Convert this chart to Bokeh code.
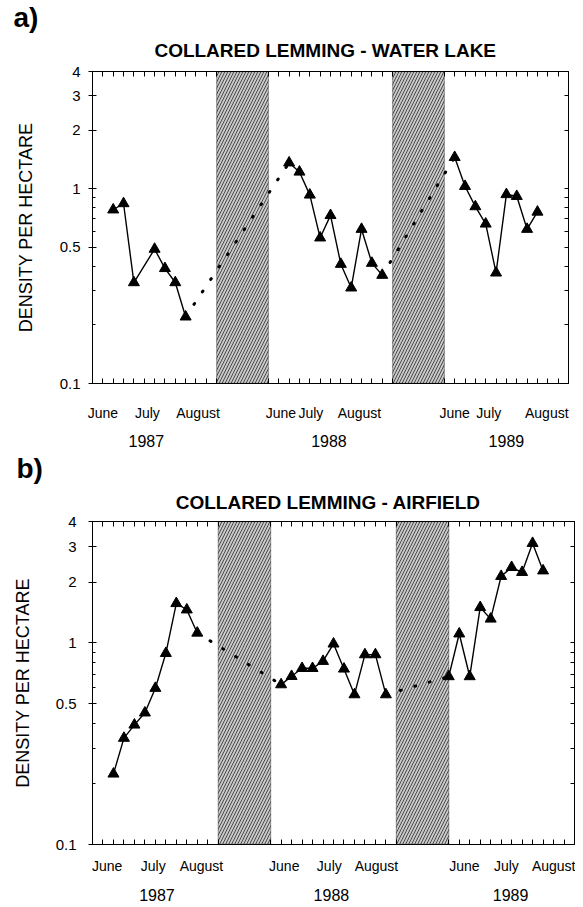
from bokeh.plotting import figure
from bokeh.models import LogAxis, LinearAxis, FixedTicker, Range1d, BoxAnnotation, Title
from bokeh.layouts import column
from bokeh.embed import file_html
from bokeh.resources import INLINE

FONT = "Liberation Sans"

# x = week index on a compressed time axis: summer 1987 = 0-12, winter 12-17,
# summer 1988 = 17-29, winter 29-34, summer 1989 = 34-46
winters = [(12, 17), (29, 34)]
week_ticks = list(range(0, 13)) + list(range(17, 30)) + list(range(34, 47))
y_ticks = [0.1, 0.5, 1, 2, 3, 4]
y_minor = [0.2, 0.3, 0.4, 0.6, 0.7, 0.8, 0.9]
years = ["1987", "1988", "1989"]
months = ["June", "July", "August"] * 3
y_label = "DENSITY PER HECTARE"

# Panel a: Water Lake
a_title = "COLLARED LEMMING  -  WATER LAKE"
a87_week = [2, 3, 4, 6, 7, 8, 9]
a87_dens = [0.78, 0.84, 0.33, 0.49, 0.39, 0.33, 0.22]
a88_week = [19, 20, 21, 22, 23, 24, 25, 26, 27, 28]
a88_dens = [1.36, 1.22, 0.93, 0.56, 0.73, 0.41, 0.31, 0.62, 0.415, 0.36]
a89_week = [35, 36, 37, 38, 39, 40, 41, 42, 43]
a89_dens = [1.45, 1.03, 0.81, 0.66, 0.37, 0.935, 0.915, 0.62, 0.76]
a_month_pos = [1.0, 5.3, 10.2, 18.2, 21.1, 25.8, 35.0, 38.3, 43.9]
a_year_pos = [5.2, 22.85, 40.0]

# Panel b: Airfield
b_title = "COLLARED LEMMING  -  AIRFIELD"
b87_week = [2, 3, 4, 5, 6, 7, 8, 9, 10]
b87_dens = [0.224, 0.337, 0.392, 0.45, 0.596, 0.888, 1.57, 1.46, 1.12]
b88_week = [18, 19, 20, 21, 22, 23, 24, 25, 26, 27, 28]
b88_dens = [0.621, 0.683, 0.748, 0.748, 0.811, 0.989, 0.743, 0.554, 0.875, 0.875, 0.554]
b89_week = [34, 35, 36, 37, 38, 39, 40, 41, 42, 43]
b89_dens = [0.681, 1.11, 0.681, 1.50, 1.315, 2.14, 2.37, 2.24, 3.12, 2.28]
b_month_pos = [1.4, 5.8, 10.4, 18.3, 22.6, 27.1, 35.5, 39.5, 44.6]
b_year_pos = [6.15, 22.8, 39.9]


def panel(letter, title, seasons, month_pos, year_pos, fw, fh, bl, br, bt, bb,
          month_standoff, year_standoff, tick_standoff, ylab_standoff,
          title_standoff, title_offset, letter_offset, letter_standoff):
    p = figure(frame_width=fw, frame_height=fh, y_axis_type="log",
               x_range=Range1d(0, 46), y_range=Range1d(0.1, 4),
               output_backend="svg", toolbar_location=None,
               min_border_left=bl, min_border_right=br,
               min_border_top=bt, min_border_bottom=bb)
    p.xgrid.visible = False
    p.ygrid.visible = False
    p.outline_line_color = "black"
    p.outline_line_width = 1
    p.background_fill_color = "white"
    p.border_fill_color = "white"

    for (l, r) in winters:
        p.add_layout(BoxAnnotation(left=l, right=r, fill_color="#c8c8c8", fill_alpha=1,
                                   hatch_pattern="/", hatch_color="#4a4a4a",
                                   hatch_scale=6, hatch_weight=1.0,
                                   line_color="black", line_width=1.3,
                                   level="underlay"))

    # dotted winter links between the last and first counts of consecutive summers
    for s0, s1 in zip(seasons[:-1], seasons[1:]):
        p.line([s0[0][-1], s1[0][0]], [s0[1][-1], s1[1][0]], line_color="black",
               line_width=3, line_dash="1 14", line_cap="round")
    for wk, dn in seasons:
        p.line(wk, dn, line_color="black", line_width=1.4)
        p.scatter(wk, dn, marker="triangle", size=11, fill_color="black", line_color="black")

    # bottom axis: months, weekly ticks pointing in
    xa = p.xaxis[0]
    xa.ticker = FixedTicker(ticks=month_pos, minor_ticks=week_ticks)
    xa.major_label_overrides = {mp: m for mp, m in zip(month_pos, months)}
    xa.major_tick_in = 0
    xa.major_tick_out = 0
    xa.minor_tick_in = 5
    xa.minor_tick_out = 0
    xa.major_label_standoff = month_standoff
    xa.major_label_text_font = FONT
    xa.major_label_text_font_size = "14px"
    xa.major_label_text_color = "black"
    xa.axis_line_color = "black"

    # second bottom axis: years
    yr_axis = LinearAxis(ticker=FixedTicker(ticks=year_pos, minor_ticks=[]),
                         major_label_overrides={yp: yr for yp, yr in zip(year_pos, years)},
                         major_tick_in=0, major_tick_out=0, minor_tick_in=0, minor_tick_out=0,
                         axis_line_color=None, major_label_standoff=year_standoff,
                         major_label_text_font=FONT, major_label_text_font_size="16px",
                         major_label_text_color="black")
    p.add_layout(yr_axis, "below")

    # top axis: weekly ticks only (no labels)
    top = LinearAxis(ticker=FixedTicker(ticks=[], minor_ticks=week_ticks),
                     major_label_standoff=0,
                     minor_tick_in=5, minor_tick_out=0, major_tick_out=0, major_tick_in=0,
                     axis_line_color="black")
    p.add_layout(top, "above")

    ya = p.yaxis[0]
    ya.ticker = FixedTicker(ticks=y_ticks, minor_ticks=y_minor)
    ya.major_label_overrides = {t: ("%g" % t) for t in y_ticks}
    ya.major_tick_in = 4
    ya.major_tick_out = 4
    ya.minor_tick_in = 3
    ya.minor_tick_out = 0
    ya.major_label_standoff = tick_standoff
    ya.major_label_text_font = FONT
    ya.major_label_text_font_size = "15px"
    ya.major_label_text_color = "black"
    ya.axis_line_color = "black"
    ya.axis_label = y_label
    ya.axis_label_text_font = FONT
    ya.axis_label_text_font_size = "18px"
    ya.axis_label_text_font_style = "normal"
    ya.axis_label_text_color = "black"
    ya.axis_label_standoff = ylab_standoff

    # right axis: log ticks only (no labels)
    right = LogAxis(ticker=FixedTicker(ticks=[], minor_ticks=y_ticks + y_minor),
                    major_label_standoff=0,
                    major_tick_in=0, major_tick_out=0, minor_tick_in=4, minor_tick_out=0,
                    axis_line_color="black")
    p.add_layout(right, "right")

    p.add_layout(Title(text=title, align="center", offset=title_offset,
                       standoff=title_standoff, text_font=FONT, text_font_size="19px",
                       text_font_style="bold", text_color="black"), "above")
    p.add_layout(Title(text=letter, align="left", offset=letter_offset,
                       standoff=letter_standoff,
                       text_font=FONT, text_font_size="28px", text_font_style="bold",
                       text_color="black"), "above")
    return p


pa = panel("a)", a_title,
           [(a87_week, a87_dens), (a88_week, a88_dens), (a89_week, a89_dens)],
           a_month_pos, a_year_pos,
           fw=476, fh=312, bl=92, br=7, bt=71, bb=67,
           month_standoff=21, year_standoff=11, tick_standoff=8, ylab_standoff=21,
           title_standoff=22, title_offset=-4, letter_offset=-79, letter_standoff=-12)

pb = panel("b)", b_title,
           [(b87_week, b87_dens), (b88_week, b88_dens), (b89_week, b89_dens)],
           b_month_pos, b_year_pos,
           fw=482, fh=323, bl=83, br=10, bt=71, bb=62,
           month_standoff=13, year_standoff=12, tick_standoff=12, ylab_standoff=20,
           title_standoff=18, title_offset=-1, letter_offset=-76, letter_standoff=-6)

layout = column(pa, pb, spacing=0)
open("out.html", "w").write(file_html(layout, INLINE))
